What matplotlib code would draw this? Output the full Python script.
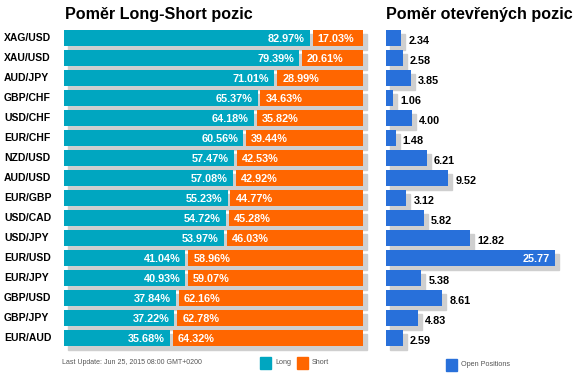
import matplotlib
matplotlib.use("Agg")
import matplotlib.pyplot as plt
from matplotlib.patches import Rectangle

pairs = ["XAG/USD", "XAU/USD", "AUD/JPY", "GBP/CHF", "USD/CHF", "EUR/CHF", "NZD/USD",
         "AUD/USD", "EUR/GBP", "USD/CAD", "USD/JPY", "EUR/USD", "EUR/JPY", "GBP/USD",
         "GBP/JPY", "EUR/AUD"]
long_pct = [82.97, 79.39, 71.01, 65.37, 64.18, 60.56, 57.47, 57.08, 55.23, 54.72,
            53.97, 41.04, 40.93, 37.84, 37.22, 35.68]
short_pct = [17.03, 20.61, 28.99, 34.63, 35.82, 39.44, 42.53, 42.92, 44.77, 45.28,
             46.03, 58.96, 59.07, 62.16, 62.78, 64.32]
open_pos = [2.34, 2.58, 3.85, 1.06, 4.00, 1.48, 6.21, 9.52, 3.12, 5.82, 12.82, 25.77,
            5.38, 8.61, 4.83, 2.59]

TEAL = "#00a6c0"
ORANGE = "#ff6600"
BLUE = "#2870da"
SHADOW = "#cfcfcf"
FONT = "Liberation Sans"

W, H = 580, 380
fig = plt.figure(figsize=(W / 100, H / 100), dpi=100)
fig.patch.set_facecolor("white")


def px_axes(x0, y0, x1, y1):
    ax = fig.add_axes([x0 / W, 1 - y1 / H, (x1 - x0) / W, (y1 - y0) / H])
    ax.set_axis_off()
    return ax


n = len(pairs)
# Left panel
axL = px_axes(64, 28, 363, 348)
total = 101.0
axL.set_xlim(0, total)
axL.set_ylim(n - 0.5, -0.5)
pxu = total / 299.0
bh = 0.8
sx, sy = 4 * pxu, 0.2
for i in range(n):
    L = long_pct[i]
    S = short_pct[i]
    axL.add_patch(Rectangle((sx, i - bh / 2 + sy), total, bh, color=SHADOW,
                            clip_on=False, zorder=1))
    axL.barh(i, L, height=bh, left=0, color=TEAL, zorder=2)
    axL.barh(i, S, height=bh, left=L + 1.0, color=ORANGE, zorder=2)
    axL.text(L - 5 * pxu, i + 0.03, f"{L:.2f}%", color="white", fontsize=7.8,
             fontweight="bold", family=FONT, ha="right", va="center", zorder=3)
    axL.text(L + 1.0 + 5 * pxu, i + 0.03, f"{S:.2f}%", color="white", fontsize=7.8,
             fontweight="bold", family=FONT, ha="left", va="center", zorder=3)
    fig.text(4 / W, 1 - (38 + 20 * i) / H, pairs[i], fontsize=7.5, fontweight="bold",
             family=FONT, ha="left", va="center", color="black")

fig.text(65 / W, 1 - 15 / H, "Poměr Long-Short pozic", fontsize=11.6, fontweight="bold",
         family=FONT, ha="left", va="center", color="black")

# Right panel
axR = px_axes(386, 28, 575, 348)
ppu = 6.56
axR.set_xlim(0, 189 / ppu)
axR.set_ylim(n - 0.5, -0.5)
vmax = max(open_pos)
for i in range(n):
    v = open_pos[i]
    axR.add_patch(Rectangle((4 / ppu, i - bh / 2 + 0.22), v, bh, color=SHADOW,
                            clip_on=False, zorder=1))
    axR.barh(i, v, height=bh, color=BLUE, zorder=2)
    if v == vmax:
        axR.text(v - 5 / ppu, i + 0.03, f"{v:.2f}", color="white", fontsize=7.8,
                 fontweight="bold", family=FONT, ha="right", va="center", zorder=3)
    else:
        axR.text(v + 7 / ppu, i + 0.15, f"{v:.2f}", color="black", fontsize=7.8,
                 fontweight="bold", family=FONT, ha="left", va="center", zorder=3)

fig.text(386 / W, 1 - 15 / H, "Poměr otevřených pozic", fontsize=11.6, fontweight="bold",
         family=FONT, ha="left", va="center", color="black")

# Footer
fig.text(62 / W, 1 - 363 / H, "Last Update: Jun 25, 2015 08:00 GMT+0200", fontsize=5.0,
         family=FONT, ha="left", va="center", color="#555555")


def legend_item(x, y, color, label):
    fig.patches.append(Rectangle((x / W, 1 - (y + 6) / H), 11 / W, 12 / H, color=color,
                                 transform=fig.transFigure, figure=fig))
    fig.text((x + 15) / W, 1 - y / H, label, fontsize=5.2, family=FONT, ha="left",
             va="center", color="#555555")


legend_item(260, 363, TEAL, "Long")
legend_item(297, 363, ORANGE, "Short")
legend_item(446, 365, BLUE, "Open Positions")

fig.savefig("out.png", dpi=100, facecolor="white")
